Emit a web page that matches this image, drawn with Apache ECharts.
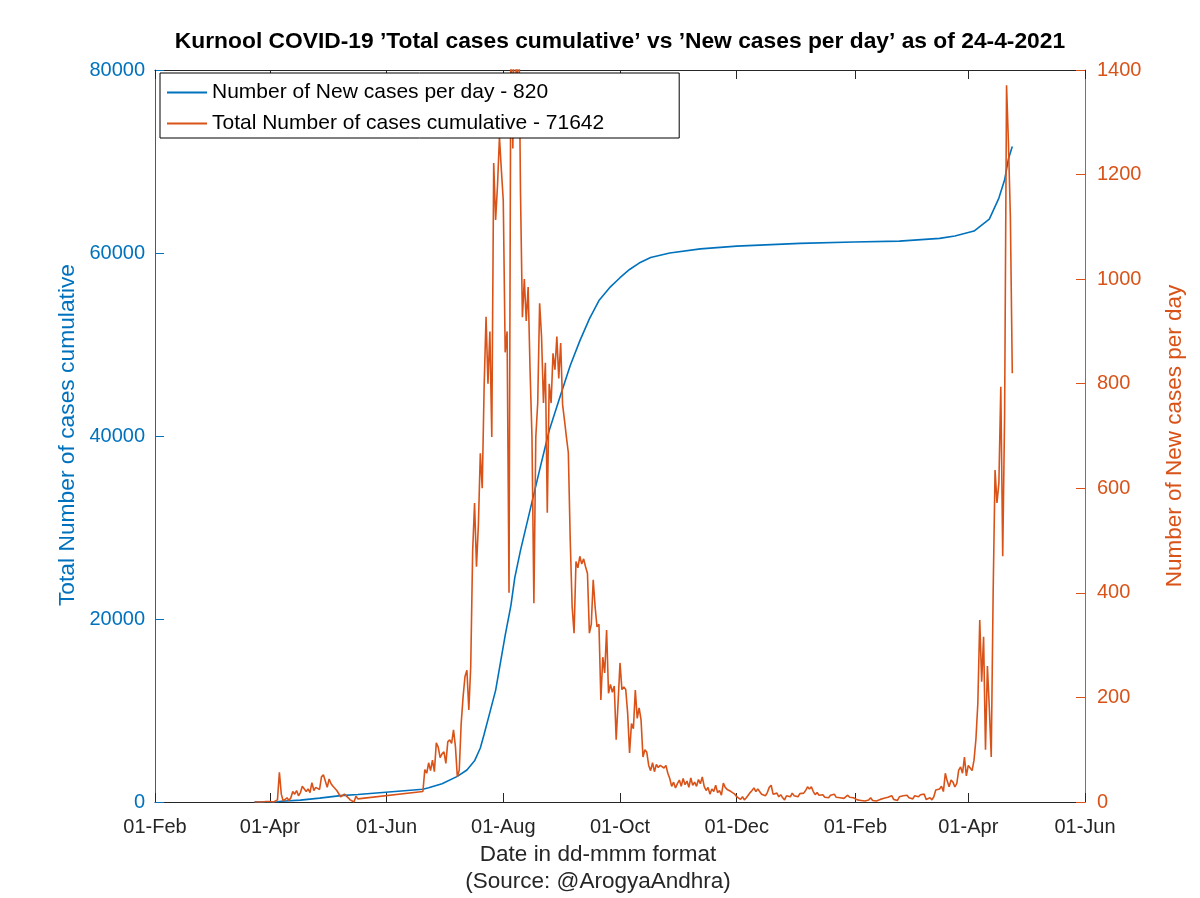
<!DOCTYPE html>
<html><head><meta charset="utf-8">
<script src="https://cdn.jsdelivr.net/npm/echarts@6/dist/echarts.min.js"></script>
<style>html,body{margin:0;padding:0;background:#fff}#c{width:1200px;height:898px}</style>
</head><body><div id="c"></div>
<script>
// ---------- data ----------
const xTickDates = ['2020-02-01','2020-04-01','2020-06-01','2020-08-01','2020-10-01','2020-12-01','2021-02-01','2021-04-01','2021-06-01'];
const leftTicks = [0, 20000, 40000, 60000, 80000];
const rightTicks = [0, 200, 400, 600, 800, 1000, 1200, 1400];

// New cases per day (right axis), one value per day starting at newCasesStart; null = no report
const newCasesStart = '2020-03-24';
const newCases = [
  0,0,0,0,0,0,1,0,1,0,0,2,
  4,57,15,2,5,8,3,
  8,20,15,22,12,18,30,33,20,25,18,37,22,28,30,24,48,52,40,28,44,35,30,33,22,25,10,
  10,15,12,8,4,1,0,11,6,
  null,null,null,null,null,null,null,null,null,null,null,null,null,null,null,null,null,
  null,null,null,null,null,null,null,null,null,null,null,null,null,null,null,null,
  20,62,55,75,60,80,58,113,105,85,92,96,74,115,119,112,138,106,48,61,150,201,240,252,176,259,
  480,572,450,530,667,600,794,928,800,900,698,1222,1113,1180,1272,1209,1150,860,900,400,
  1500,1250,1600,1300,1550,1165,927,1000,920,985,826,698,380,698,763,954,890,763,840,553,800,763,858,827,890,810,878,760,730,698,668,
  500,373,323,460,448,470,455,465,450,437,323,340,425,373,335,340,195,277,247,329,208,225,210,222,119,190,266,215,220,215,170,94,150,140,214,160,180,157,86,
  100,95,70,60,75,58,72,66,70,68,65,70,55,45,30,38,27,35,42,30,45,33,40,28,46,32,38,30,43,35,48,30,22,28,15,25,20,32,18,22,13,36,28,24,27,20,22,15,10,12,5,10,4,8,13,18,22,27,20,25,22,
  15,17,12,18,28,32,15,12,17,10,14,8,4,12,15,10,17,12,14,10,16,13,17,22,29,25,29,20,14,18,13,10,14,9,12,8,13,10,15,9,12,8,11,7,10,13,9,6,8,5,4,7,3,6,2,5,4,8,3,5,2,4,
  5,3,7,4,9,6,12,5,8,3,10,7,12,9,13,8,11,6,12,9,10,14,17,15,5,3,8,4,10,23,21,25,30,20,55,40,29,42,38,29,35,61,67,55,86,50,70,
  65,60,80,120,189,348,230,316,100,260,180,86,400,635,572,610,794,470,743,1371,1260,1120,820
];

// Total cases cumulative (left axis)
const totalDates = ['2020-03-24','2020-04-05','2020-04-07','2020-04-17','2020-04-27','2020-05-08','2020-05-17','2020-06-20','2020-06-23','2020-06-30',
  '2020-07-08','2020-07-13','2020-07-17','2020-07-20','2020-07-22','2020-07-25','2020-07-28','2020-07-30','2020-08-02','2020-08-05','2020-08-07','2020-08-10',
  '2020-08-15','2020-08-20','2020-08-25','2020-08-31','2020-09-05','2020-09-10','2020-09-15','2020-09-20','2020-09-26','2020-10-01','2020-10-06','2020-10-11',
  '2020-10-17','2020-10-27','2020-11-12','2020-12-01','2021-01-03','2021-01-31','2021-02-24','2021-03-17','2021-03-25','2021-04-04','2021-04-12','2021-04-17',
  '2021-04-20','2021-04-22','2021-04-24'];
const totalValues = [0,20,90,200,420,700,820,1400,1550,2000,
  2800,3500,4500,5900,7400,9800,12200,14600,18200,21500,24500,27500,
  31900,36300,40600,44500,47700,50400,52800,54800,56300,57300,58200,58900,
  59500,60000,60450,60750,61050,61200,61300,61600,61850,62400,63700,66000,
  68000,70300,71642];

const totalName = 'Number of New cases per day - 820';
const newName = 'Total Number of cases cumulative - 71642';
const titleText = 'Kurnool COVID-19 ’Total cases cumulative’ vs ’New cases per day’ as of 24-4-2021';
const monthNames = ['Jan','Feb','Mar','Apr','May','Jun','Jul','Aug','Sep','Oct','Nov','Dec'];

// ---------- build ----------
function ts(s){ const p = s.split('-').map(Number); return Date.UTC(p[0], p[1]-1, p[2]); }
const DAY = 86400000;
const t0 = ts(newCasesStart);
const newData = newCases.map((v,i) => [t0 + i*DAY, v]);
const totalData = totalDates.map((d,i) => [ts(d), totalValues[i]]);
const xTicks = xTickDates.map(ts);
function fmt(v){ const d = new Date(v); return String(d.getUTCDate()).padStart(2,'0') + '-' + monthNames[d.getUTCMonth()]; }
const plain = v => String(v);

const FF = 'Liberation Sans, Arial, Helvetica, sans-serif';
const BLUE = '#0072BD', ORANGE = '#D95319', DARK = '#262626';

const chart = echarts.init(document.getElementById('c'), null, {renderer:'canvas'});
chart.setOption({
  animation: false,
  backgroundColor: '#fff',
  grid: {left:155, right:115, top:70, bottom:96, containLabel:false},
  legend: {
    orient:'vertical', left:160, top:73,
    padding:[9,75,4,7], itemWidth:40, itemHeight:2, itemGap:10, itemTextGap:6,
    borderColor:'#000', borderWidth:1, backgroundColor:'#fff',
    icon:'rect',
    textStyle:{fontSize:21, lineHeight:20, color:'#000', fontFamily:FF},
    data:[{name:totalName}, {name:newName}],
    z: 10
  },
  xAxis: [{
    type:'value', min:xTicks[0], max:xTicks[xTicks.length-1], position:'bottom',
    axisLine:{show:true, onZero:false, lineStyle:{color:DARK, width:1}},
    axisTick:{show:true, inside:true, length:9, customValues:xTicks, lineStyle:{color:DARK}},
    axisLabel:{show:true, customValues:xTicks, formatter:fmt, fontSize:20, color:DARK, fontFamily:FF, margin:15, showMinLabel:true, showMaxLabel:true},
    splitLine:{show:false}
  },{
    type:'value', min:xTicks[0], max:xTicks[xTicks.length-1], position:'top',
    axisLine:{show:true, onZero:false, lineStyle:{color:DARK, width:1}},
    axisTick:{show:true, inside:true, length:9, customValues:xTicks, lineStyle:{color:DARK}},
    axisLabel:{show:false},
    splitLine:{show:false}
  }],
  yAxis: [{
    type:'value', min:0, max:80000, interval:20000, position:'left',
    axisLine:{show:true, lineStyle:{color:BLUE, width:1}},
    axisTick:{show:true, inside:true, length:9, customValues:leftTicks, lineStyle:{color:BLUE}},
    axisLabel:{fontSize:20, color:BLUE, fontFamily:FF, margin:10, formatter:plain},
    splitLine:{show:false}
  },{
    type:'value', min:0, max:1400, interval:200, position:'right',
    axisLine:{show:true, lineStyle:{color:ORANGE, width:1}},
    axisTick:{show:true, inside:true, length:9, customValues:rightTicks, lineStyle:{color:ORANGE}},
    axisLabel:{fontSize:20, color:ORANGE, fontFamily:FF, margin:12, formatter:plain},
    splitLine:{show:false}
  }],
  graphic: [
    {type:'text', x:620, y:42, z:20, style:{text:titleText, textAlign:'center', textVerticalAlign:'middle', fontSize:22.8, fontWeight:'bold', fontFamily:FF, fill:'#000'}},
    {type:'text', x:598, y:855, style:{text:'Date in dd-mmm format', textAlign:'center', textVerticalAlign:'middle', fontSize:22.5, fontFamily:FF, fill:DARK}},
    {type:'text', x:598, y:882, style:{text:'(Source: @ArogyaAndhra)', textAlign:'center', textVerticalAlign:'middle', fontSize:22.5, fontFamily:FF, fill:DARK}},
    {type:'text', x:68, y:435, rotation:Math.PI/2, style:{text:'Total Number of cases cumulative', textAlign:'center', textVerticalAlign:'middle', fontSize:22.8, fontFamily:FF, fill:BLUE}},
    {type:'text', x:1175, y:436, rotation:Math.PI/2, style:{text:'Number of New cases per day', textAlign:'center', textVerticalAlign:'middle', fontSize:22.5, fontFamily:FF, fill:ORANGE}}
  ],
  series: [{
    name: totalName, type:'line', xAxisIndex:0, yAxisIndex:0, data: totalData,
    showSymbol:false, symbol:'none', lineStyle:{color:BLUE, width:1.6}, itemStyle:{color:BLUE}, z:2
  },{
    name: newName, type:'line', xAxisIndex:0, yAxisIndex:1, data: newData,
    showSymbol:false, symbol:'none', connectNulls:true, clip:true,
    lineStyle:{color:ORANGE, width:1.6}, itemStyle:{color:ORANGE}, z:3
  }]
});
</script></body></html>
